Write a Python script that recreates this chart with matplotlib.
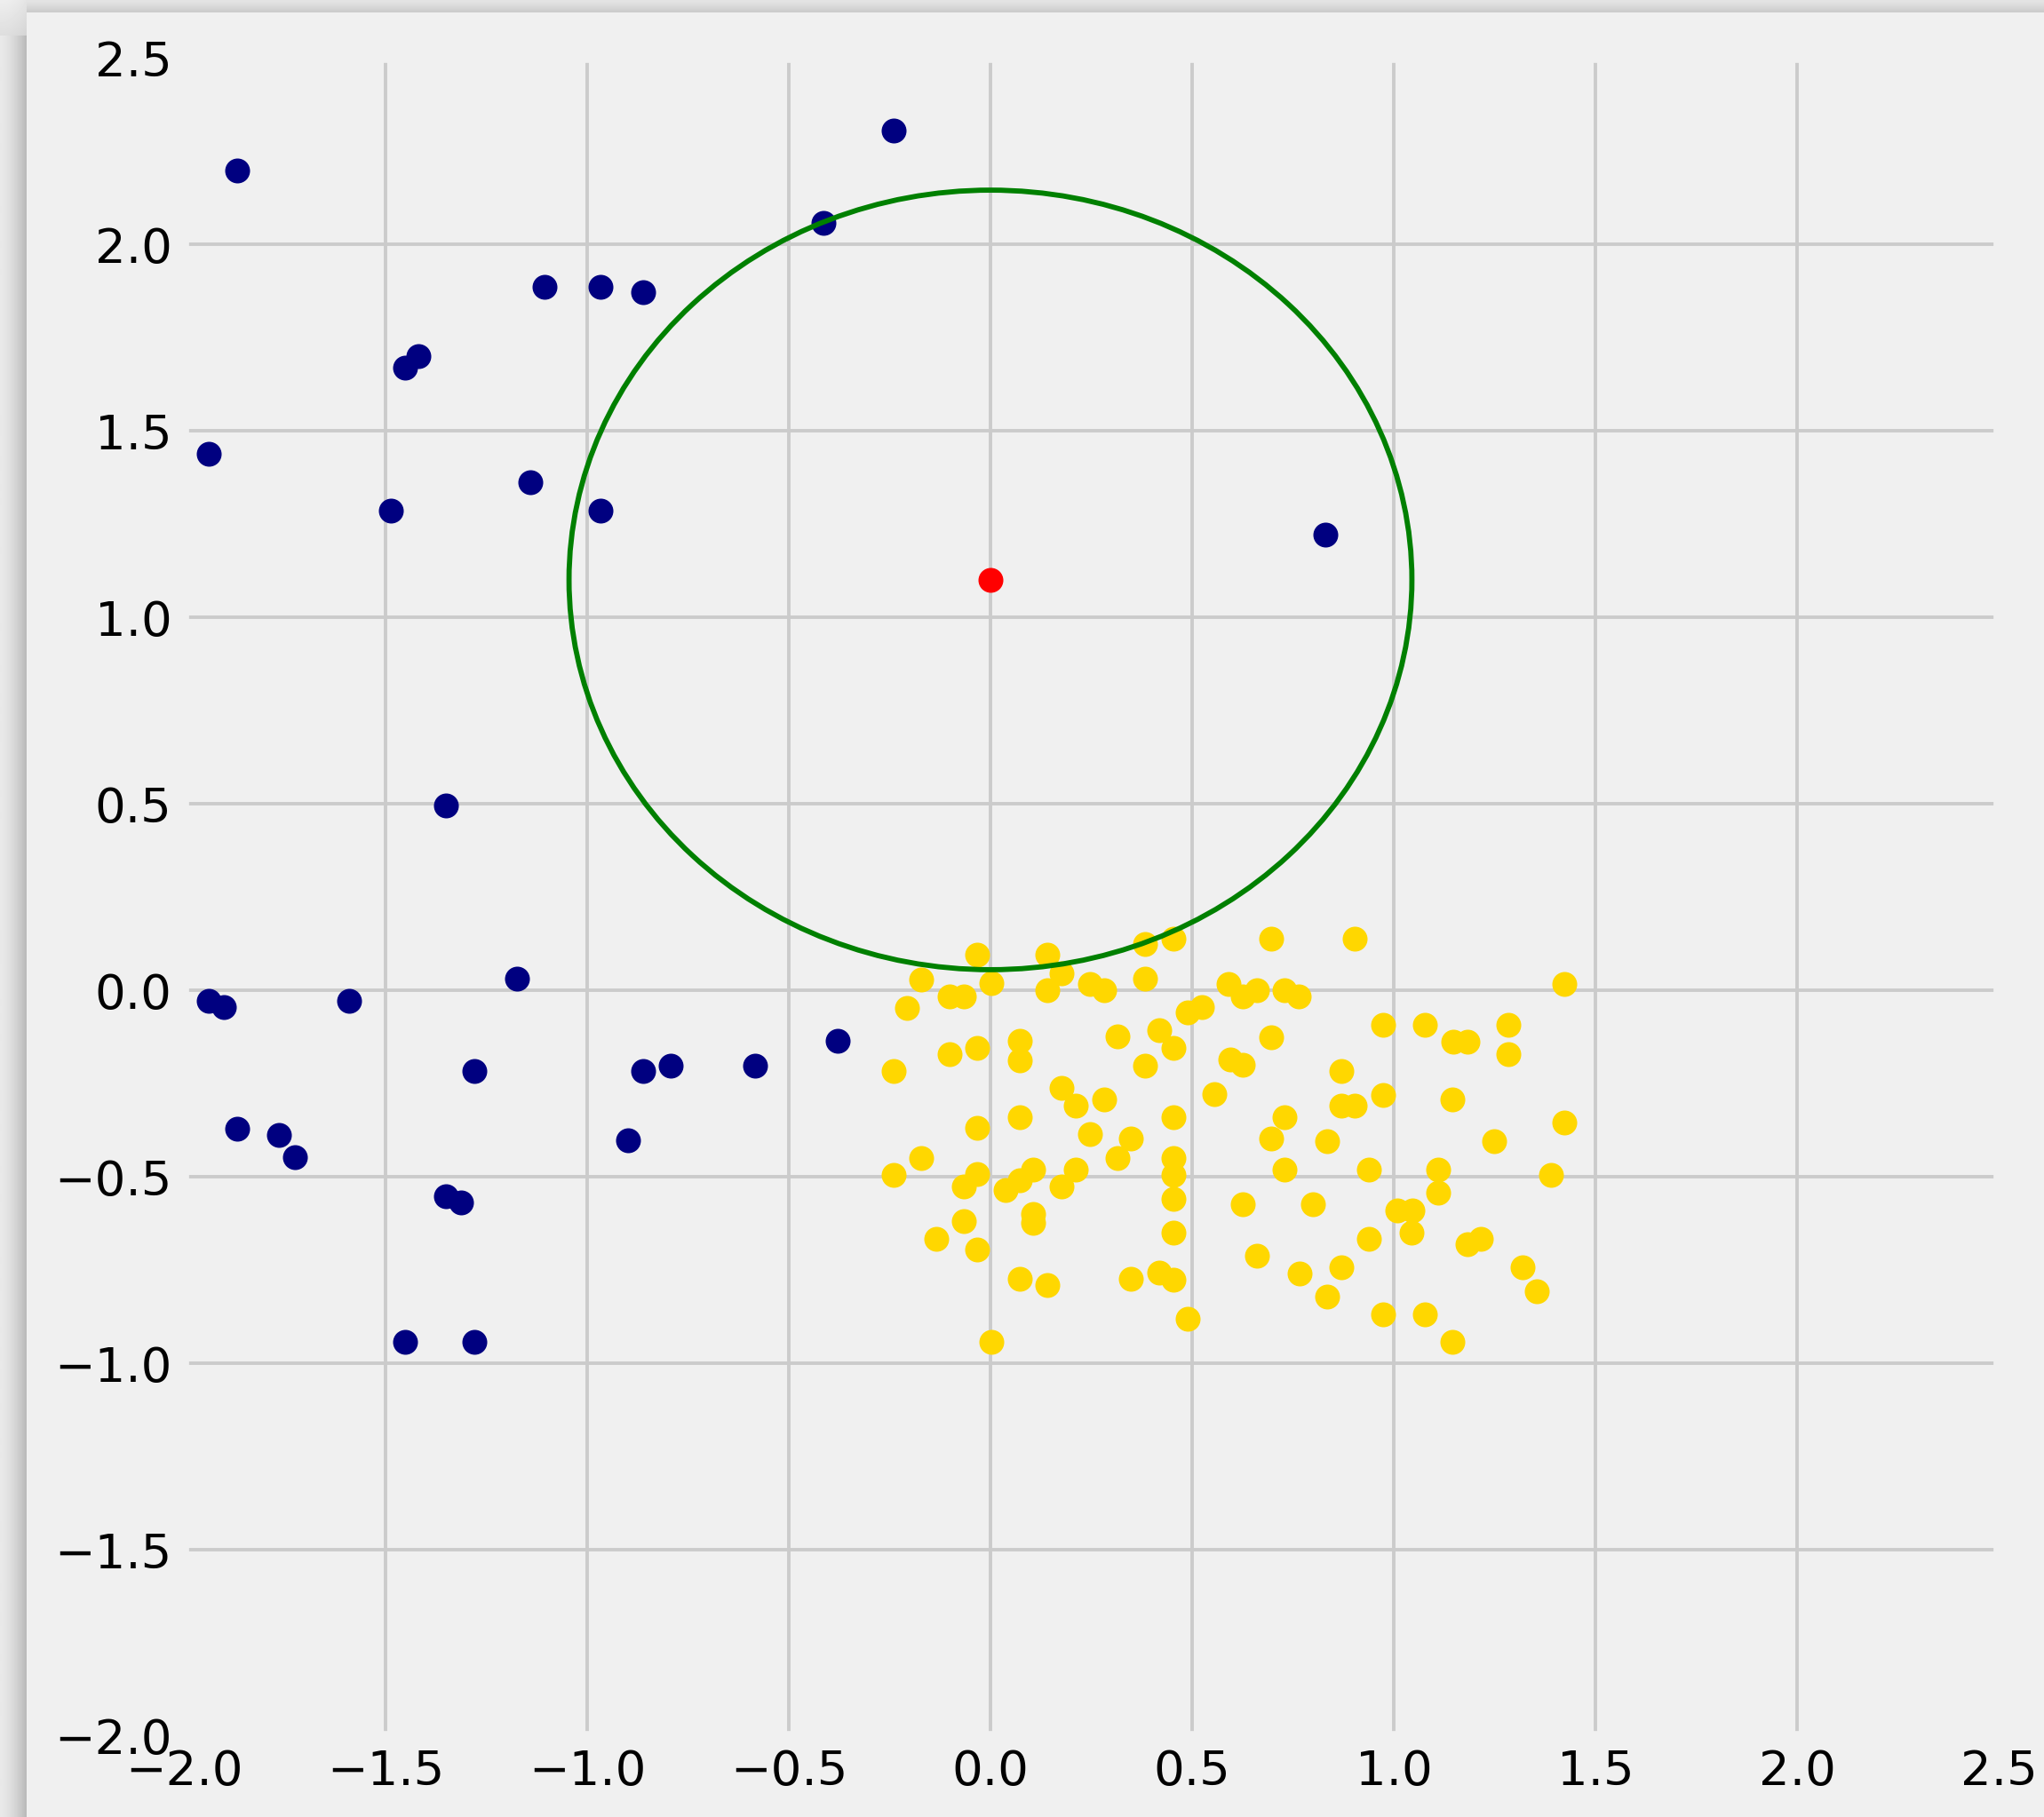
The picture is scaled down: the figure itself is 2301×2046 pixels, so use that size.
import numpy as np
import matplotlib.pyplot as plt

plt.style.use('fivethirtyeight')

# синий класс
blue_x = [-1.867, -0.239, -0.413, -1.105, -0.966, -0.862, -1.451, -1.418, -1.939, -1.486,
          -1.140, -0.966, 0.831, -1.350, -1.173, -1.939, -1.900, -1.590, -1.279, -0.862,
          -0.794, -0.584, -0.378, -1.867, -1.764, -1.725, -0.898, -1.350, -1.312, -1.451,
          -1.279]
blue_y = [2.198, 2.305, 2.057, 1.886, 1.886, 1.872, 1.670, 1.701, 1.439, 1.285,
          1.362, 1.285, 1.222, 0.496, 0.031, -0.029, -0.046, -0.029, -0.216, -0.216,
          -0.202, -0.202, -0.136, -0.371, -0.388, -0.448, -0.402, -0.552, -0.570, -0.944,
          -0.944]

# жёлтый класс
yellow_x = [-0.032, 0.142, 0.384, 0.453, -0.171, 0.002, 0.176, 0.384, -0.101, -0.066,
            0.142, 0.246, 0.281, -0.206, 0.488, 0.524, 0.314, 0.419, 0.453, 0.073,
            0.073, -0.032, -0.101, -0.240, 0.384, 0.176, 0.211, 0.281, 0.556, 0.453,
            0.073, -0.032, 0.246, 0.349,
            0.695, 0.903, 0.590, 0.626, 0.661, 0.730, 0.764, 1.423, 0.973, 1.077,
            1.148, 1.182, 1.285, 1.285, 0.695, 0.595, 0.626, 0.869, 0.973, 0.870,
            0.903, 1.145, 0.730, 1.423, 0.695, 0.835, 1.248,
            -0.171, -0.240, -0.032, -0.066, 0.037, 0.073, 0.106, 0.176, 0.211, 0.314,
            0.453, 0.453, 0.453, 0.106, 0.106, -0.066, -0.134, -0.032, 0.453, 0.073,
            0.142, 0.349, 0.419, 0.453, 0.488, 0.002,
            0.730, 0.938, 1.111, 1.111, 1.389, 0.626, 0.799, 1.008, 1.046, 1.043,
            0.938, 1.182, 1.215, 0.661, 0.766, 0.870, 1.320, 1.355, 0.835, 0.973,
            1.077, 1.145]
yellow_y = [0.095, 0.095, 0.123, 0.139, 0.029, 0.020, 0.045, 0.032, -0.016, -0.016,
            0.000, 0.016, 0.000, -0.048, -0.060, -0.046, -0.123, -0.107, -0.155, -0.135,
            -0.188, -0.155, -0.171, -0.217, -0.202, -0.262, -0.310, -0.294, -0.278, -0.341,
            -0.341, -0.370, -0.385, -0.397,
            0.139, 0.139, 0.016, -0.016, 0.000, 0.000, -0.016, 0.016, -0.093, -0.093,
            -0.139, -0.139, -0.093, -0.171, -0.125, -0.186, -0.200, -0.216, -0.280, -0.310,
            -0.310, -0.294, -0.341, -0.355, -0.397, -0.405, -0.405,
            -0.450, -0.496, -0.492, -0.526, -0.536, -0.510, -0.480, -0.526, -0.480, -0.450,
            -0.450, -0.496, -0.560, -0.599, -0.624, -0.619, -0.667, -0.696, -0.651, -0.774,
            -0.790, -0.774, -0.758, -0.775, -0.881, -0.944,
            -0.480, -0.480, -0.480, -0.542, -0.496, -0.573, -0.573, -0.590, -0.590, -0.651,
            -0.667, -0.680, -0.667, -0.712, -0.760, -0.744, -0.744, -0.806, -0.821, -0.868,
            -0.868, -0.944]

# новая точка и радиус окрестности
new_point = (0.0, 1.1)
radius = 1.045

ticks = np.arange(-2.0, 2.51, 0.5)

W, H, DPI = 2301, 2046, 280
fig = plt.figure(figsize=(W / DPI, H / DPI), dpi=DPI, facecolor='#f0f0f0')

# тень от окна скриншота (слева и сверху)
bg = fig.add_axes([0, 0, 1, 1], zorder=-10)
bg.set_xlim(0, W)
bg.set_ylim(H, 0)
bg.axis('off')
t = np.linspace(0, 1, 60)
left_shade = (233 - 48 * t ** 1.6) / 255
top_shade = (228 - 26 * t ** 1.3) / 255
bg.imshow(left_shade[None, :], cmap='gray', vmin=0, vmax=1, extent=(0, 30, H, 40),
          aspect='auto', interpolation='bilinear')
bg.imshow(top_shade[:, None], cmap='gray', vmin=0, vmax=1, extent=(30, W, 14, 0),
          aspect='auto', interpolation='bilinear')
corner = np.linspace(238, 222, 40)[:, None] - 10 * np.linspace(0, 1, 30)[None, :] ** 2
bg.imshow(corner / 255, cmap='gray', vmin=0, vmax=1, extent=(0, 30, 40, 0),
          aspect='auto', interpolation='bilinear')

ax = fig.add_axes([207 / W, 1 - 1955 / H, (2250 - 207) / W, (1955 - 65) / H])
ax.scatter(blue_x, blue_y, c='navy', s=36, linewidths=1.2)
ax.scatter(yellow_x, yellow_y, c='gold', s=36, linewidths=1.2)
ax.scatter([new_point[0]], [new_point[1]], c='red', s=36, linewidths=1.2)
ax.add_patch(plt.Circle(new_point, radius, fill=False, color='green', lw=1.5))

ax.set_xlim(-2, 2.5)
ax.set_ylim(-2, 2.5)
ax.set_xticks(ticks)
ax.set_yticks(ticks)
ax.tick_params(labelsize=14)

fig.savefig('out.png', dpi=DPI, facecolor=fig.get_facecolor())
